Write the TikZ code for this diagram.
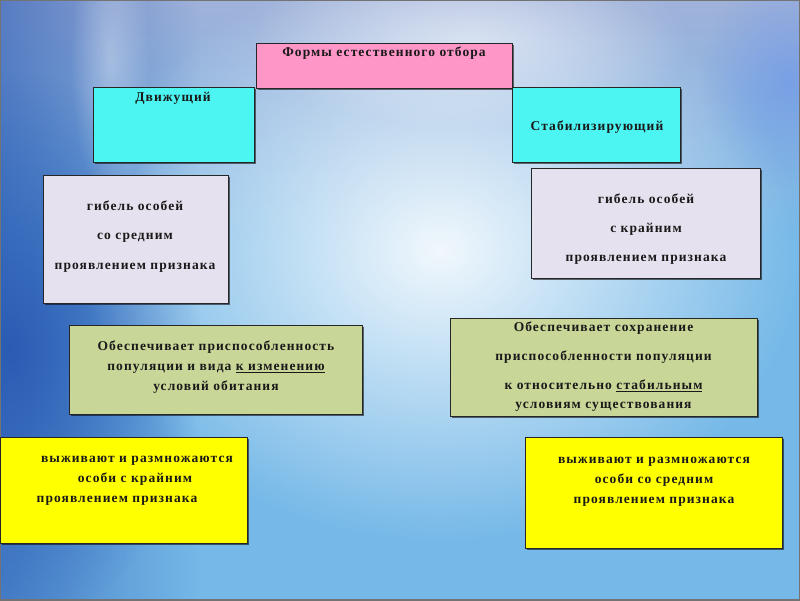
\documentclass[tikz,border=0pt]{standalone}
\usepackage{fontspec}
\setmainfont{Liberation Serif}[LetterSpace=8]
\usetikzlibrary{fadings,shadows}
\definecolor{pinkbox}{RGB}{255,150,200}
\definecolor{cyanbox}{RGB}{77,245,242}
\definecolor{lavbox}{RGB}{230,225,238}
\definecolor{greenbox}{RGB}{200,214,152}
\definecolor{yelbox}{RGB}{255,255,0}
\definecolor{bgbase}{RGB}{118,185,232}
\definecolor{bgdark}{RGB}{40,88,178}
\definecolor{bggrey}{RGB}{160,178,218}
\tikzfading[name=fadeleft, left color=transparent!0, right color=transparent!100]
\tikzfading[name=fadetop, top color=transparent!0, bottom color=transparent!100]
\tikzfading[name=glow, inner color=transparent!0, outer color=transparent!100]
\tikzset{
  box/.style={draw=black!85, line width=0.9pt, anchor=north west, inner sep=0pt,
    drop shadow={shadow xshift=1.8pt, shadow yshift=-1.8pt, opacity=0.55, fill=black}},
  lbl/.style={font=\fontsize{13.5}{20}\selectfont\bfseries, align=center, inner sep=0pt, text=black!90}
}
\begin{document}
\begin{tikzpicture}[x=1pt,y=-1pt]
\useasboundingbox (0,0) rectangle (800,600);
% background
\fill[bgbase] (0,0) rectangle (800,600);
\fill[bggrey, path fading=fadetop] (0,0) rectangle (800,240);
\fill[bgdark, opacity=0.6, path fading=fadeleft] (0,0) rectangle (200,600);
\fill[bgdark, opacity=0.9, path fading=glow] (10,350) ellipse (190 and 280);
\fill[white, opacity=0.9, path fading=glow] (440,250) ellipse (360 and 290);
\fill[white, opacity=0.5, path fading=glow] (470,40) ellipse (220 and 90);
\fill[white, opacity=0.35, path fading=glow] (110,60) ellipse (40 and 140);
\fill[bgbase!70!blue, opacity=0.4, path fading=glow] (790,80) ellipse (90 and 110);
\draw[black!55, line width=1.2pt] (0,0) rectangle (800,600);
% boxes
\node[box, fill=pinkbox, minimum width=256pt, minimum height=45pt] (pinkb) at (256,43) {};
\node[box, fill=cyanbox, minimum width=161pt, minimum height=75pt] (cyanl) at (93,87) {};
\node[box, fill=cyanbox, minimum width=168pt, minimum height=75pt] (cyanr) at (512,87) {};
\node[box, fill=lavbox, minimum width=185pt, minimum height=128pt] (lavl) at (43,175) {};
\node[box, fill=lavbox, minimum width=229pt, minimum height=110pt] (lavr) at (531,168) {};
\node[box, fill=greenbox, minimum width=293pt, minimum height=89pt] (grnl) at (69,325) {};
\node[box, fill=greenbox, minimum width=307pt, minimum height=98pt] (grnr) at (450,318) {};
\node[box, fill=yelbox, minimum width=247pt, minimum height=106pt] (yell) at (0,437) {};
\node[box, fill=yelbox, minimum width=257pt, minimum height=111pt] (yelr) at (525,437) {};
% texts
\node[lbl] (tpink) at (384,53) {Формы естественного отбора};
\node[lbl] (tcyanl) at (173,98) {Движущий};
\node[lbl] (tcyanr) at (597,127) {Стабилизирующий};
\node[lbl] (tlavl) at (135,236.5) {гибель особей\\[9.5pt]со средним\\[9.5pt]проявлением признака};
\node[lbl] (tlavr) at (646,229) {гибель особей\\[9pt]с крайним\\[9pt]проявлением признака};
\node[lbl] (tgrnl) at (216,367) {Обеспечивает приспособленность\\популяции и вида \underline{к изменению}\\условий обитания};
\node[lbl] (tgrnr) at (603.5,366.5) {Обеспечивает сохранение\\[9pt]приспособленности популяции\\[9pt]к относительно \underline{стабильным}\\[-1pt]условиям существования};
\node[lbl] (tyell) at (125,480.5) {\hspace*{24pt}выживают и размножаются\\\hspace*{20pt}особи с крайним\\проявлением признака\hspace*{16pt}};
\node[lbl] (tyelr) at (654,481.5) {выживают и размножаются\\особи со средним\\проявлением признака};
\end{tikzpicture}
\end{document}
